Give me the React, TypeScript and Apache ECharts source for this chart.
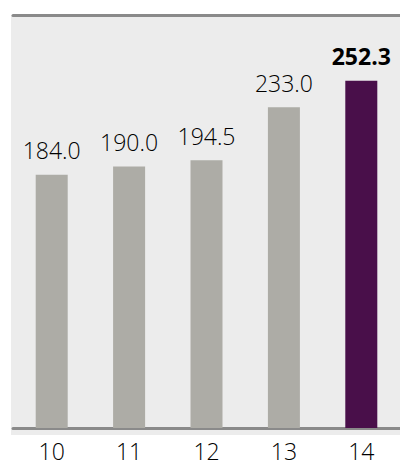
import React, { useEffect, useRef } from "react";
import * as echarts from "echarts";

const categories = ["10", "11", "12", "13", "14"];
const values = [184.0, 190.0, 194.5, 233.0, 252.3];
const highlightIndex = 4;

const GRAY = "#adaca6";
const PURPLE = "#490f4a";
const FONT = "'Open Sans', 'Noto Sans', sans-serif";

export default function App() {
  const ref = useRef<HTMLDivElement>(null);
  useEffect(() => {
    if (!ref.current) return;
    const chart = echarts.init(ref.current, null, { renderer: "svg" });
    chart.setOption({
      animation: false,
      backgroundColor: "#ffffff",
      graphic: [
        {
          type: "rect",
          z: -10,
          silent: true,
          shape: { x: 11, y: 15, width: 389, height: 420 },
          style: { fill: "#ececec" },
        },
      ],
      grid: { left: 13, width: 393, top: 15, bottom: 28, containLabel: false },
      xAxis: [
        {
          type: "category",
          data: categories,
          position: "bottom",
          axisLine: { show: true, lineStyle: { color: "#8a8a8a", width: 3 } },
          axisTick: { show: false },
          axisLabel: { color: "#000000", fontSize: 23, fontWeight: 350, fontFamily: FONT, margin: 11 },
        },
        {
          type: "category",
          data: categories,
          position: "top",
          axisLine: { show: true, lineStyle: { color: "#8a8a8a", width: 3 } },
          axisTick: { show: false },
          axisLabel: { show: false },
        },
      ],
      yAxis: {
        type: "value",
        min: 0,
        max: 300,
        show: false,
        splitLine: { show: false },
      },
      series: [
        {
          type: "bar",
          barWidth: 32,
          data: values.map((v, i) => ({
            value: v,
            itemStyle: { color: i === highlightIndex ? PURPLE : GRAY },
            label: {
              fontWeight: i === highlightIndex ? "bold" : 350,
            },
          })),
          label: {
            show: true,
            position: "top",
            distance: 13,
            color: "#000000",
            fontSize: 23,
            fontFamily: FONT,
            formatter: (p: any) => Number(p.value).toFixed(1),
          },
        },
      ],
    });
    return () => chart.dispose();
  }, []);
  return <div ref={ref} style={{ width: 400, height: 462, position: "absolute", left: 0, top: 0 }} />;
}
